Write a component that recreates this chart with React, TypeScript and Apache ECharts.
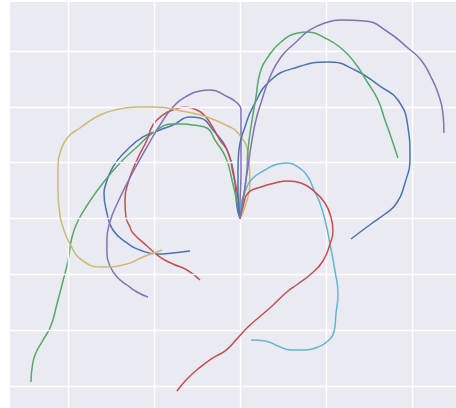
import React, { useEffect, useRef } from "react";
import * as echarts from "echarts";

const COLORS = ["#4C72B0", "#55A868", "#C44E52", "#8172B2", "#CCB974", "#64B5CD"];
const X_GRID = [-2, -1, 0, 1, 2];
const Y_GRID = [-3, -2, -1, 0, 1, 2, 3];

const blueLeft: [number, number][] = [[0,0],[-0.035,0.206],[-0.058,0.637],[-0.14,1.193],[-0.314,1.587],[-0.465,1.803],[-0.581,1.821],[-0.779,1.677],[-0.93,1.587],[-1.128,1.462],[-1.314,1.229],[-1.477,0.924],[-1.57,0.565],[-1.581,0.457],[-1.547,0.099],[-1.477,-0.206],[-1.314,-0.439],[-1.163,-0.565],[-0.965,-0.637],[-0.779,-0.619],[-0.581,-0.583]];
const greenLeft: [number, number][] = [[0,0],[-0.023,0.206],[-0.093,0.691],[-0.163,1.085],[-0.291,1.408],[-0.384,1.623],[-0.547,1.677],[-0.663,1.695],[-0.779,1.695],[-1.012,1.534],[-1.198,1.283],[-1.395,0.996],[-1.593,0.637],[-1.767,0.26],[-1.884,-0.045],[-1.953,-0.332],[-2.0,-0.762],[-2.058,-1.121],[-2.128,-1.534],[-2.2,-1.93],[-2.29,-2.18],[-2.37,-2.4],[-2.41,-2.6],[-2.43,-2.933]];
const redLeft: [number, number][] = [[0,0],[-0.023,0.386],[-0.081,0.816],[-0.14,1.193],[-0.233,1.408],[-0.326,1.659],[-0.407,1.839],[-0.5,1.946],[-0.64,2.0],[-0.779,1.946],[-0.895,1.857],[-1.012,1.677],[-1.081,1.408],[-1.198,1.049],[-1.302,0.637],[-1.337,0.332],[-1.326,0.027],[-1.279,-0.152],[-1.244,-0.26],[-1.081,-0.493],[-0.93,-0.691],[-0.779,-0.816],[-0.616,-0.924],[-0.465,-1.103]];
const purpleLeft: [number, number][] = [[0,0],[0,0.206],[0.012,0.816],[0.012,1.534],[0.012,1.946],[-0.047,2.09],[-0.14,2.179],[-0.349,2.305],[-0.465,2.287],[-0.616,2.197],[-0.779,2.0],[-0.93,1.677],[-1.081,1.283],[-1.244,0.834],[-1.43,0.26],[-1.512,-0.063],[-1.547,-0.386],[-1.547,-0.619],[-1.512,-0.852],[-1.43,-1.049],[-1.314,-1.193],[-1.198,-1.318],[-1.07,-1.408]];
const yellowLeft: [number, number][] = [[0,0],[0.058,0.206],[0.116,0.637],[0.093,1.175],[-0.023,1.534],[-0.14,1.659],[-0.384,1.821],[-0.616,1.91],[-1.012,2.0],[-1.198,2.0],[-1.395,1.964],[-1.628,1.857],[-1.86,1.623],[-2.0,1.462],[-2.081,1.229],[-2.116,0.96],[-2.116,0.511],[-2.093,0.063],[-2.07,-0.099],[-1.977,-0.457],[-1.826,-0.762],[-1.593,-0.87],[-1.314,-0.816],[-1.128,-0.691],[-0.907,-0.565]];
const cyanRight: [number, number][] = [[0,0],[0.012,0.242],[0.058,0.475],[0.128,0.691],[0.291,0.87],[0.442,0.978],[0.558,0.996],[0.674,0.924],[0.791,0.744],[0.86,0.511],[0.93,0.278],[1.0,-0.099],[1.047,-0.457],[1.105,-0.942],[1.14,-1.354],[1.116,-1.713],[1.093,-2.036],[1.023,-2.197],[0.907,-2.305],[0.756,-2.359],[0.593,-2.359],[0.442,-2.287],[0.291,-2.197],[0.128,-2.179]];
const blueRight: [number, number][] = [[0,0],[-0.023,0.422],[-0.023,0.87],[-0.012,1.229],[0.058,1.641],[0.151,2.0],[0.36,2.484],[0.674,2.718],[1.023,2.807],[1.337,2.664],[1.64,2.359],[1.837,2.126],[1.953,1.641],[1.977,1.103],[1.919,0.637],[1.814,0.26],[1.686,0.081],[1.523,-0.099],[1.291,-0.368]];
const greenRight: [number, number][] = [[0,0],[0.047,0.422],[0.081,0.87],[0.093,1.229],[0.128,1.641],[0.186,2.179],[0.233,2.61],[0.326,2.897],[0.477,3.166],[0.674,3.327],[0.791,3.345],[0.988,3.238],[1.174,3.058],[1.337,2.789],[1.488,2.43],[1.605,2.126],[1.686,1.767],[1.756,1.462],[1.837,1.085]];
const redRight: [number, number][] = [[0,0],[0.035,0.206],[0.093,0.457],[0.244,0.565],[0.407,0.637],[0.558,0.673],[0.709,0.637],[0.872,0.475],[0.988,0.278],[1.058,0.027],[1.081,-0.224],[1.047,-0.457],[0.965,-0.762],[0.826,-0.996],[0.674,-1.175],[0.558,-1.3],[0.36,-1.587],[0.093,-1.946],[-0.03,-2.15],[-0.16,-2.36],[-0.314,-2.5],[-0.465,-2.67],[-0.616,-2.879],[-0.733,-3.094]];
const purpleRight: [number, number][] = [[0,0],[0.035,0.332],[0.093,0.924],[0.14,1.408],[0.186,1.767],[0.244,2.072],[0.349,2.538],[0.477,2.897],[0.64,3.148],[0.814,3.381],[1.023,3.525],[1.174,3.561],[1.453,3.543],[1.721,3.345],[1.953,3.058],[2.105,2.843],[2.221,2.538],[2.302,2.251],[2.36,1.892],[2.372,1.534]];

const TRACES = [blueLeft, greenLeft, redLeft, purpleLeft, yellowLeft, cyanRight, blueRight, greenRight, redRight, purpleRight];

export default function App() {
  const ref = useRef<HTMLDivElement>(null);
  useEffect(() => {
    if (!ref.current) return;
    const chart = echarts.init(ref.current, undefined, { renderer: "svg" });
    const gridLines = [
      ...X_GRID.map((v) => ({ xAxis: v })),
      ...Y_GRID.map((v) => ({ yAxis: v })),
    ];
    const series: any[] = [
      {
        type: "line",
        data: [[0, 0]],
        symbol: "none",
        lineStyle: { width: 0 },
        silent: true,
        z: 1,
        markLine: {
          silent: true,
          symbol: ["none", "none"],
          label: { show: false },
          lineStyle: { color: "#ffffff", width: 1.4, type: "solid" },
          emphasis: { disabled: true },
          data: gridLines,
        },
      },
      ...TRACES.map((d, i) => ({
        type: "line",
        data: d,
        symbol: "none",
        smooth: 0.5,
        z: 2 + i,
        lineStyle: { color: COLORS[i % COLORS.length], width: 1.5 },
        itemStyle: { color: COLORS[i % COLORS.length] },
      })),
    ];
    chart.setOption({
      animation: false,
      backgroundColor: "#ffffff",
      grid: { left: 10, top: 2, right: 0, bottom: 0, show: true, backgroundColor: "#EAEAF2", borderWidth: 0 },
      xAxis: {
        type: "value",
        min: -2.674,
        max: 2.512,
        axisLine: { show: false },
        axisTick: { show: false },
        axisLabel: { show: false },
        splitLine: { show: false },
      },
      yAxis: {
        type: "value",
        min: -3.399,
        max: 3.883,
        axisLine: { show: false },
        axisTick: { show: false },
        axisLabel: { show: false },
        splitLine: { show: false },
      },
      series,
    });
    return () => chart.dispose();
  }, []);
  return (
    <div
      ref={ref}
      style={{ position: "fixed", left: 0, top: 0, width: 456, height: 408 }}
    />
  );
}
